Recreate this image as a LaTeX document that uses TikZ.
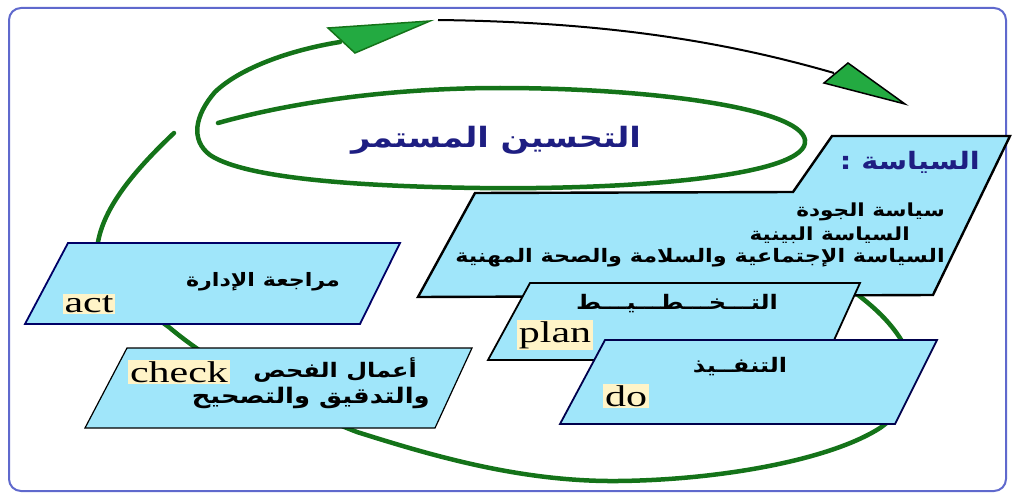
\documentclass[tikz,border=0pt]{standalone}
\usepackage{fontspec}
\setmainfont{Liberation Serif}[FakeStretch=1.4]
\newfontfamily\arabicfont[Script=Arabic, FakeStretch=1.2]{DejaVu Sans}
\TeXXeTstate=1
\newcommand{\artext}[1]{{\arabicfont\bfseries\beginR #1\endR}}
\definecolor{framecol}{RGB}{95,105,205}
\definecolor{loopgreen}{RGB}{20,115,25}
\definecolor{headgreen}{RGB}{35,170,65}
\definecolor{panelfill}{RGB}{160,230,250}
\definecolor{tagfill}{RGB}{255,244,200}
\definecolor{navy}{RGB}{30,30,130}
\begin{document}
\begin{tikzpicture}[
    x=1pt, y=-1pt,
    cycleline/.style={line width=4.5pt, draw=loopgreen, line cap=round},
    panel/.style={fill=panelfill, draw=black, line width=1.8pt, line join=miter},
    engtag/.style={fill=tagfill, inner xsep=2pt, inner ysep=1.5pt, font=\fontsize{30}{30}\selectfont},
    artxt/.style={inner sep=0pt, font=\fontsize{18}{18}\selectfont},
    arrowtip/.style={fill=headgreen, line width=1.5pt, line join=miter}]
    \useasboundingbox (0,0) rectangle (1013,495);

    % Rahmen
    \draw[draw=framecol, line width=2pt, rounded corners=12pt] (9,8) rectangle (1006,491);

    % Kreislauf
    \draw[cycleline] (174,133) .. controls (135,170) and (100,210) .. (97,250)
                     .. controls (97,285) and (140,305) .. (170,328)
                     .. controls (220,370) and (300,410) .. (357,432)
                     .. controls (430,455) and (520,482) .. (618,481)
                     .. controls (720,480) and (830,460) .. (880,428)
                     .. controls (920,400) and (915,360) .. (900,338)
                     .. controls (885,315) and (865,300) .. (845,285);

    % Schleife
    \draw[cycleline] (218,123) .. controls (300,100) and (400,88) .. (500,88)
                     .. controls (650,88) and (800,108) .. (805,140)
                     .. controls (810,175) and (640,190) .. (480,188)
                     .. controls (330,186) and (240,175) .. (210,155)
                     .. controls (190,140) and (195,115) .. (215,92)
                     .. controls (240,68) and (290,50) .. (340,42);
    \draw[black, line width=2pt] (438,20) .. controls (600,22) and (720,40) .. (834,73);
    \draw[arrowtip, draw=loopgreen] (328,28) -- (430,21) -- (355,53) -- cycle;
    \draw[arrowtip, draw=black] (848,63) -- (905,104) -- (824,83) -- cycle;

    % Kaesten
    \draw[panel, line width=2.4pt] (832,136) -- (1010,136) -- (933,295) -- (418,297)
                                   -- (475,193) -- (793,192) -- cycle;
    \draw[panel] (530,283) -- (860,283) -- (825,360) -- (488,360) -- cycle;
    \draw[panel, draw=black!70!blue] (605,340) -- (937,340) -- (895,424) -- (560,424) -- cycle;
    \draw[panel, draw=black!60!blue] (68,243) -- (400,243) -- (360,324) -- (25,324) -- cycle;
    \draw[panel, line width=1.2pt] (127,348) -- (472,348) -- (435,428) -- (85,428) -- cycle;

    % Texte
    \node[artxt, text=navy, font=\fontsize{28}{28}\selectfont] (improve) at (496,140) {\artext{التحسين المستمر}};
    \node[artxt, text=navy, font=\fontsize{24}{24}\selectfont, anchor=east] (policy) at (980,162) {\artext{السياسة :}};
    \node[artxt, anchor=east] (quality) at (945,212) {\artext{سياسة الجودة}};
    \node[artxt, anchor=east] (environ) at (910,235) {\artext{السياسة البينية}};
    \node[artxt, anchor=east, font=\fontsize{18.6}{18.6}\selectfont] (social) at (945,258) {\artext{السياسة الإجتماعية والسلامة والصحة المهنية}};
    \node[artxt, font=\fontsize{18.5}{18.5}\selectfont] (review) at (263,282) {\artext{مراجعة  الإدارة}};
    \node[artxt, font=\fontsize{20}{20}\selectfont, anchor=east] (audit) at (417,370) {\artext{أعمال الفحص}};
    \node[artxt, font=\fontsize{21.5}{21.5}\selectfont, anchor=east] (correct) at (430,398) {\artext{والتدقيق والتصحيح}};
    \node[artxt, font=\fontsize{20}{20}\selectfont] (planning) at (677,304) {\artext{التـــخـــطـــيـــط}};
    \node[artxt, font=\fontsize{20}{20}\selectfont] (doing) at (740,367) {\artext{التنفــيذ}};

    % Englisch
    \node[engtag] (act) at (89,304) {act};
    \node[engtag] (check) at (179,372) {check};
    \node[engtag] (plan) at (555,335) {plan};
    \node[engtag] (do) at (626,396) {do};
\end{tikzpicture}
\end{document}
